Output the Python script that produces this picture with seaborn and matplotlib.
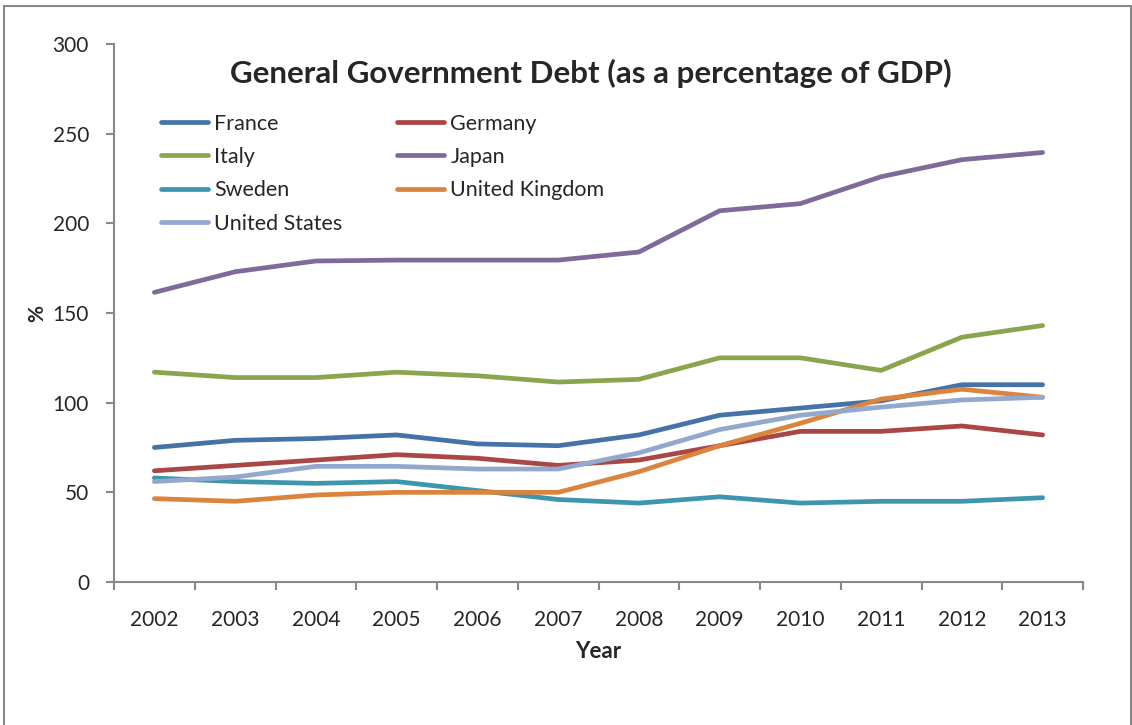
import numpy as np
import pandas as pd
import matplotlib
matplotlib.use("Agg")
import matplotlib.pyplot as plt
import seaborn as sns
from matplotlib.patches import Rectangle
from matplotlib.ticker import FixedLocator

years = [2002, 2003, 2004, 2005, 2006, 2007, 2008, 2009, 2010, 2011, 2012, 2013]
countries = ["France", "Germany", "Italy", "Japan", "Sweden", "United Kingdom", "United States"]
france = [75, 79, 80, 82, 77, 76, 82, 93, 97, 101, 110, 110]
germany = [62, 65, 68, 71, 69, 65, 68, 76, 84, 84, 87, 82]
italy = [117, 114, 114, 117, 115, 111.5, 113, 125, 125, 118, 136.5, 143]
japan = [161.5, 173, 179, 179.5, 179.5, 179.5, 184, 207, 211, 226, 235.5, 239.5]
sweden = [58, 56, 55, 56, 51, 46, 44, 47.5, 44, 45, 45, 47]
uk = [46.5, 45, 48.5, 50, 50, 50, 61.5, 76, 88.5, 102, 107.5, 103]
us = [56, 58.5, 64.5, 64.5, 63, 63, 72, 85, 93, 97.5, 101.5, 103]
colors = ["#4572A7", "#AA4643", "#89A54E", "#80699B", "#3D96AE", "#DB843D", "#92A8CD"]

series = [france, germany, italy, japan, sweden, uk, us]
df = pd.DataFrame({
    "Year": np.tile(years, len(countries)),
    "Value": np.concatenate(series),
    "Country": np.repeat(countries, len(years)),
})

sns.set_style("white")
plt.rcParams["font.family"] = ["Lato", "DejaVu Sans"]

fig = plt.figure(figsize=(11.32, 7.25), dpi=100)
ax = fig.add_axes([114/1132, 1-582/725, (1083-114)/1132, (582-44)/725])

sns.lineplot(data=df, x="Year", y="Value", hue="Country", palette=colors,
             linewidth=3.4, ax=ax, legend=True)
for ln in ax.get_lines():
    ln.set_solid_capstyle("round")
    ln.set_solid_joinstyle("round")

ax.set_xlim(2001.5, 2013.5)
ax.set_ylim(0, 300)
ax.set_xticks(years)
ax.set_xticklabels([str(y) for y in years])
ax.xaxis.set_minor_locator(FixedLocator(np.arange(2001.5, 2014.0, 1.0)))
ax.tick_params(axis="x", which="major", length=0, pad=20, labelsize=15)
ax.tick_params(axis="x", which="minor", length=6, width=1.5, color="#888888", direction="out", bottom=True)
ax.set_yticks(np.arange(0, 301, 50))
ax.tick_params(axis="y", which="major", length=6, width=1.5, color="#888888", direction="out", left=True, pad=12, labelsize=15)

for s in ["top", "right"]:
    ax.spines[s].set_visible(False)
for s in ["left", "bottom"]:
    ax.spines[s].set_color("#888888")
    ax.spines[s].set_linewidth(1.5)

ax.set_xlabel("Year", fontsize=16, fontweight="bold")
ax.xaxis.set_label_coords(0.5, -(652-582)/538, transform=ax.transAxes)
ax.xaxis.label.set_va("center")
ax.set_ylabel("%", fontsize=15, fontweight="bold")
ax.yaxis.set_label_coords(-(114-37)/969, 0.5, transform=ax.transAxes)
ax.yaxis.label.set_va("center")

fig.text(591/1132, 1-73/725, "General Government Debt (as a percentage of GDP)",
         ha="center", va="center", fontsize=22.5, fontweight="bold")

handles, labels = ax.get_legend_handles_labels()
order = [0, 2, 4, 6, 1, 3, 5]
leg = ax.legend([handles[i] for i in order], [labels[i] for i in order],
                ncol=2, frameon=False, fontsize=15.5,
                loc="upper left", bbox_to_anchor=(152/1132, 1-105/725),
                bbox_transform=fig.transFigure,
                handlelength=2.2, handletextpad=0.3, columnspacing=2.5,
                labelspacing=0.62, borderaxespad=0)
for h in leg.get_lines():
    h.set_linewidth(3.4)
    h.set_solid_capstyle("round")

fig.patches.append(Rectangle((4/1132, -0.1), (1131-4)/1132, 1-6/725+0.1,
                             transform=fig.transFigure, fill=False,
                             edgecolor="#888888", linewidth=1.5))

fig.savefig("out.png", dpi=100)
